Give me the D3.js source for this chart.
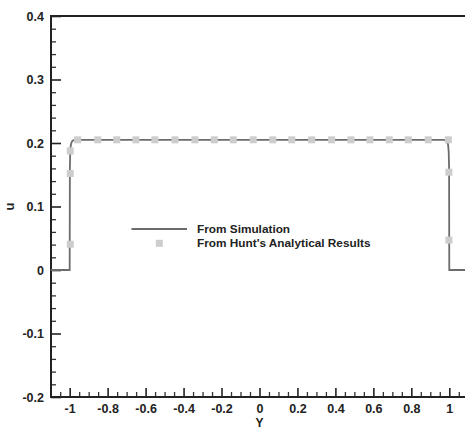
<!DOCTYPE html>
<html><head><meta charset="utf-8">
<script src="https://cdn.jsdelivr.net/npm/d3@7"></script>
<style>
html,body{margin:0;padding:0;background:#fff;}
svg{display:block;}
text{font-family:"Liberation Sans",Arial,sans-serif;font-weight:bold;fill:#222;}
</style></head>
<body>
<svg id="chart" width="465" height="428"></svg>
<script>
// ---- data ----
const simY = [-1.1, -1.0, -1.0, -0.999, -0.997, -0.994, -0.99, -0.985, -0.978, -0.97, 0.97, 0.978, 0.985, 0.99, 0.994, 0.997, 0.999, 1.0, 1.0, 1.1];
const simU = [0, 0, 0, 0.160, 0.186, 0.197, 0.201, 0.2035, 0.2045, 0.205, 0.205, 0.2045, 0.2035, 0.201, 0.197, 0.186, 0.160, 0, 0, 0];
const huntY = [-0.997, -0.997, -0.997, -0.958, -0.852, -0.752, -0.651, -0.551, -0.445, -0.340, -0.238, -0.138, -0.033, 0.070, 0.170, 0.275, 0.380, 0.482, 0.582, 0.684, 0.784, 0.889, 0.995, 0.998, 0.998];
const huntU = [0.0405, 0.152, 0.1875, 0.205, 0.205, 0.205, 0.205, 0.205, 0.205, 0.205, 0.205, 0.205, 0.205, 0.205, 0.205, 0.205, 0.205, 0.205, 0.205, 0.205, 0.205, 0.205, 0.205, 0.154, 0.047];
const xTicks = [-1, -0.8, -0.6, -0.4, -0.2, 0, 0.2, 0.4, 0.6, 0.8, 1];
const yTicks = [-0.2, -0.1, 0, 0.1, 0.2, 0.3, 0.4];
const legendLabels = ["From Simulation", "From Hunt's Analytical Results"];
const xTitle = "Y", yTitle = "u";

// ---- layout ----
const svg = d3.select("#chart");
const mLeft = 51, mTop = 16, mBottom = 397;
const x = d3.scaleLinear().domain([-1.1, 1.1]).range([50.7, 50.7 + 2.2 * 189.8]);
const y = d3.scaleLinear().domain([-0.2, 0.4]).range([mBottom, mTop]);
const xMinor = d3.range(-1.1, 1.1001, 0.05).map(v => Math.round(v * 100) / 100).filter(v => !xTicks.some(t => Math.abs(t - v) < 1e-9));
const yMinor = d3.range(-0.2, 0.4001, 0.02).map(v => Math.round(v * 100) / 100).filter(v => !yTicks.some(t => Math.abs(t - v) < 1e-9));
const fmt = d => String(Math.round(d * 10) / 10);

// minor ticks
svg.append("g").attr("transform", `translate(0,${mBottom})`)
  .call(d3.axisBottom(x).tickValues(xMinor).tickSize(-5).tickSizeOuter(0).tickFormat(""))
  .call(g => g.select(".domain").remove())
  .selectAll("line").attr("stroke", "#333").attr("stroke-width", 1.3);
svg.append("g").attr("transform", `translate(${mLeft},0)`)
  .call(d3.axisLeft(y).tickValues(yMinor).tickSize(-5).tickSizeOuter(0).tickFormat(""))
  .call(g => g.select(".domain").remove())
  .selectAll("line").attr("stroke", "#333").attr("stroke-width", 1.3);

// major axes
const gx = svg.append("g").attr("transform", `translate(0,${mBottom})`)
  .call(d3.axisBottom(x).tickValues(xTicks).tickSize(-9).tickSizeOuter(0).tickPadding(7.5).tickFormat(fmt));
gx.select(".domain").remove();
gx.selectAll("line").attr("stroke", "#222").attr("stroke-width", 1.6);
gx.selectAll("text").attr("font-size", 12.5).attr("fill", "#222");

const gy = svg.append("g").attr("transform", `translate(${mLeft},0)`)
  .call(d3.axisLeft(y).tickValues(yTicks).tickSize(-10).tickSizeOuter(0).tickPadding(7).tickFormat(fmt));
gy.select(".domain").remove();
gy.selectAll("line").attr("stroke", "#222").attr("stroke-width", 1.6);
gy.selectAll("text").attr("font-size", 12.5).attr("fill", "#222");

// frame
svg.append("rect").attr("x", mLeft).attr("y", mTop).attr("width", 500).attr("height", mBottom - mTop)
  .attr("fill", "none").attr("stroke", "#222").attr("stroke-width", 2);

// titles
svg.append("text").attr("x", x(0)).attr("y", 426.5).attr("text-anchor", "middle").attr("font-size", 12).text(xTitle);
svg.append("text").attr("transform", `translate(14,${y(0.1)}) rotate(-90)`).attr("text-anchor", "middle").attr("font-size", 13).text(yTitle);

// simulation line
const line = d3.line().x((d, i) => x(simY[i])).y((d, i) => y(simU[i]));
svg.append("path").attr("d", line(simY)).attr("fill", "none").attr("stroke", "#6c6c6c").attr("stroke-width", 1.8);

// Hunt markers
const ms = 7;
svg.append("g").selectAll("rect").data(huntY).join("rect")
  .attr("x", (d, i) => x(d) - ms / 2).attr("y", (d, i) => y(huntU[i]) - ms / 2)
  .attr("width", ms).attr("height", ms).attr("fill", "#cdcdcd");

// legend
const lg = svg.append("g");
lg.append("line").attr("x1", 131.5).attr("x2", 187).attr("y1", 229).attr("y2", 229).attr("stroke", "#6c6c6c").attr("stroke-width", 1.8);
lg.append("rect").attr("x", 159.3 - 3.5).attr("y", 243.3 - 3.5).attr("width", 7).attr("height", 7).attr("fill", "#cdcdcd");
lg.selectAll("text").data(legendLabels).join("text")
  .attr("x", 197).attr("y", (d, i) => 229 + i * 14.3).attr("dy", "0.35em").attr("font-size", 11.8).text(d => d);
</script>
</body></html>
